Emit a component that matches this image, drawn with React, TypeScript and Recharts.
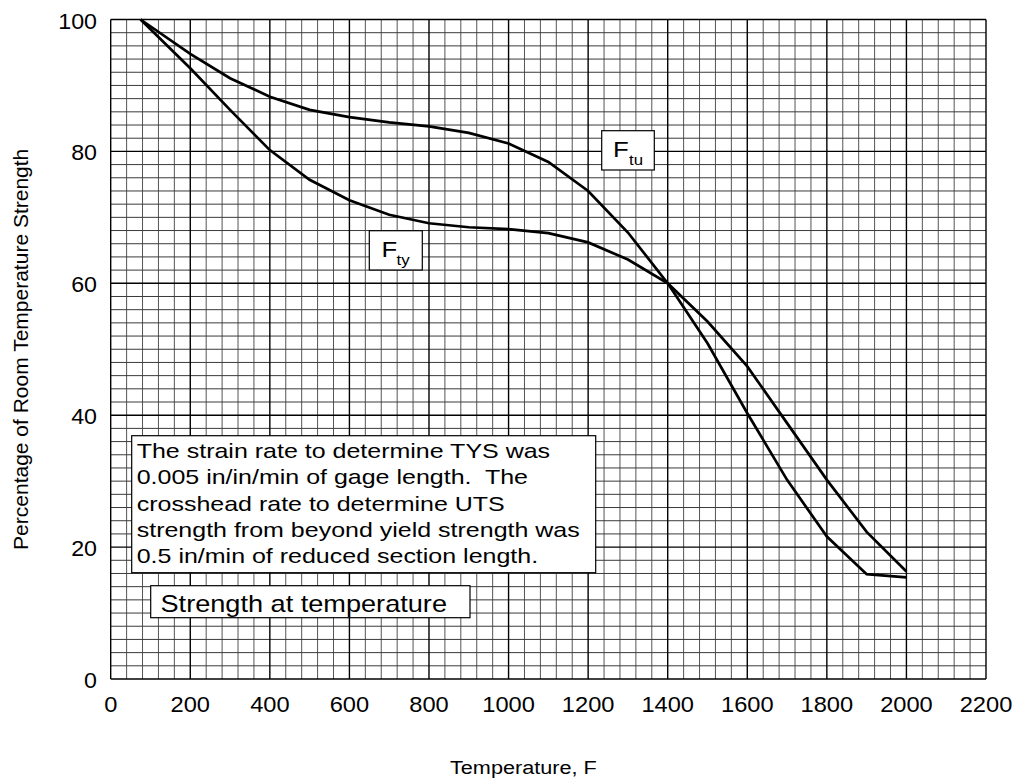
import React from 'react';
import { LineChart, Line, XAxis, YAxis, ReferenceLine } from 'recharts';

const temperatures = [75, 200, 300, 400, 500, 600, 700, 800, 900, 1000, 1100, 1200, 1300, 1400, 1500, 1600, 1700, 1800, 1900, 2000];
const ftuPct = [100, 94.8, 91.1, 88.3, 86.3, 85.2, 84.4, 83.8, 82.8, 81.2, 78.4, 74.0, 67.7, 60.0, 54.2, 47.4, 38.8, 30.2, 22.3, 16.3];
const ftyPct = [100, 92.6, 86.3, 80.2, 75.7, 72.6, 70.4, 69.1, 68.5, 68.2, 67.6, 66.2, 63.6, 60.0, 50.9, 40.3, 30.2, 21.6, 15.9, 15.4];

const xTicks = [0, 200, 400, 600, 800, 1000, 1200, 1400, 1600, 1800, 2000, 2200];
const yTicks = [0, 20, 40, 60, 80, 100];

const noteLines = [
  'The strain rate to determine TYS was',
  '0.005 in/in/min of gage length.  The',
  'crosshead rate to determine UTS',
  'strength from beyond yield strength was',
  '0.5 in/min of reduced section length.',
];
const titleText = 'Strength at temperature';
const xTitle = 'Temperature, F';
const yTitle = 'Percentage of Room Temperature Strength';

const X_MINOR_STEP = 40;
const Y_MINOR_STEP = 2;
const xMinor: number[] = [];
for (let v = X_MINOR_STEP; v < 2200; v += X_MINOR_STEP) if (v % 200 !== 0) xMinor.push(v);
const yMinor: number[] = [];
for (let v = Y_MINOR_STEP; v < 100; v += Y_MINOR_STEP) if (v % 20 !== 0) yMinor.push(v);

const data = temperatures.map((t, i) => ({ temp: t, ftu: ftuPct[i], fty: ftyPct[i] }));

const FONT = '"Liberation Sans", Arial, Helvetica, sans-serif';

function SText(props: any) {
  const { x, y, sx = 1, size, anchor = 'start', children, rotate = 0 } = props;
  return (
    <text
      transform={`translate(${x},${y}) rotate(${rotate}) scale(${sx},1)`}
      x={0}
      y={0}
      fontSize={size}
      fontFamily={FONT}
      textAnchor={anchor}
      fill="#000"
      style={{ whiteSpace: 'pre' }}
    >
      {children}
    </text>
  );
}

const XTick = (props: any) => {
  const { x, y, payload } = props;
  return (
    <SText x={x} y={y + 33} sx={1.1} size={21.5} anchor="middle">
      {String(payload.value)}
    </SText>
  );
};

const YTick = (props: any) => {
  const { x, y, payload } = props;
  return (
    <SText x={x - 13.7} y={y + 9} sx={1.08} size={21.5} anchor="end">
      {String(payload.value)}
    </SText>
  );
};

const MINOR_H = '#3a3a3a';
const MINOR_V = '#555555';

export default function App() {
  return (
    <div style={{ position: 'absolute', left: 0, top: 0, width: 1017, height: 781, background: '#fff' }}>
      <LineChart width={1017} height={781} data={data} margin={{ top: 19.5, right: 31, bottom: 0, left: 0 }}>
        <XAxis
          dataKey="temp"
          type="number"
          domain={[0, 2200]}
          ticks={xTicks}
          interval={0}
          height={102}
          tickSize={0}
          tickMargin={0}
          axisLine={false}
          tickLine={false}
          tick={<XTick />}
        />
        <YAxis
          type="number"
          domain={[0, 100]}
          ticks={yTicks}
          interval={0}
          width={110.7}
          tickSize={0}
          tickMargin={0}
          axisLine={false}
          tickLine={false}
          tick={<YTick />}
        />
        {xMinor.map((v) => (
          <ReferenceLine key={'xm' + v} x={v} stroke={MINOR_V} strokeWidth={1} />
        ))}
        {yMinor.map((v) => (
          <ReferenceLine key={'ym' + v} y={v} stroke={MINOR_H} strokeWidth={1} />
        ))}
        {xTicks.map((v) => (
          <ReferenceLine key={'xM' + v} x={v} stroke="#000" strokeWidth={1.4} />
        ))}
        {yTicks.map((v) => (
          <ReferenceLine key={'yM' + v} y={v} stroke="#000" strokeWidth={1.4} />
        ))}
        <Line type="linear" dataKey="ftu" stroke="#000" strokeWidth={2.7} dot={false} isAnimationActive={false} />
        <Line type="linear" dataKey="fty" stroke="#000" strokeWidth={2.7} dot={false} isAnimationActive={false} />
      </LineChart>
      <svg width={1017} height={781} style={{ position: 'absolute', left: 0, top: 0, pointerEvents: 'none' }}>
        {/* Ftu label */}
        <rect x={601.7} y={130.7} width={52.6} height={39.3} fill="#fff" stroke="#000" strokeWidth={1.2} />
        <SText x={613} y={156.7} sx={1.12} size={23}>F</SText>
        <SText x={629} y={165} sx={1.12} size={15}>tu</SText>
        {/* Fty label */}
        <rect x={369.3} y={230.7} width={53} height={39.3} fill="#fff" stroke="#000" strokeWidth={1.2} />
        <SText x={381.5} y={256.7} sx={1.12} size={23}>F</SText>
        <SText x={396.5} y={265} sx={1.12} size={15}>ty</SText>
        {/* note box */}
        <rect x={131.7} y={435.7} width={464} height={137} fill="#fff" stroke="#000" strokeWidth={1.2} />
        {noteLines.map((line, i) => (
          <SText key={i} x={136.7} y={458.3 + i * 26.1} sx={1.19} size={21}>
            {line}
          </SText>
        ))}
        {/* title box */}
        <rect x={150.7} y={585.7} width={319.3} height={32} fill="#fff" stroke="#000" strokeWidth={1.2} />
        <SText x={160.5} y={612} sx={1.18} size={23}>{titleText}</SText>
        {/* axis titles */}
        <SText x={450} y={774.3} sx={1.14} size={19}>{xTitle}</SText>
        <SText x={28.3} y={349.3} rotate={-90} size={21} anchor="middle">{yTitle}</SText>
      </svg>
    </div>
  );
}
